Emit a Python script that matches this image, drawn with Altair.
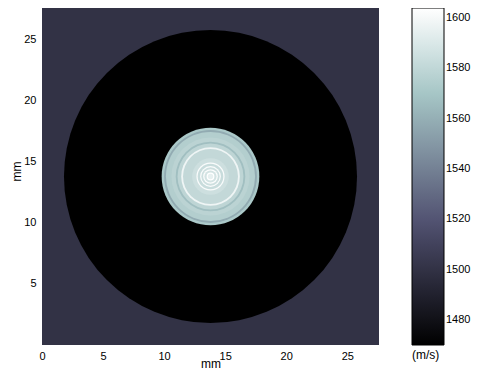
import math
import altair as alt
import pandas as pd

# ---- data (mm, m/s) ----
x_extent = [0.0, 27.6]
y_extent = [0.0, 27.6]
x_ticks = [0, 5, 10, 15, 20, 25]
y_ticks = [5, 10, 15, 20, 25]
center = [13.8, 13.8]
background_speed = 1500

# concentric regions, drawn from outside to inside
ring_radius = [12.0, 4.0, 3.8, 3.65, 3.2, 2.85, 2.7, 2.4, 2.25, 1.5, 1.15, 1.05,
               0.85, 0.75, 0.6, 0.5, 0.32, 0.22]
ring_speed = [1470, 1572, 1558, 1575, 1578, 1567, 1579, 1598, 1581, 1585, 1602, 1583,
              1602, 1585, 1603, 1587, 1604, 1595]

# colour bar
cbar_domain = [1470, 1518.9, 1570.0, 1604]
cbar_colors = ["#000000", "#515171", "#a6c6c6", "#ffffff"]
cbar_ticks = [1480, 1500, 1520, 1540, 1560, 1580, 1600]

PLOT = 337
FONT = "Liberation Sans"
FS = 11

bg_df = pd.DataFrame({"x0": [x_extent[0]], "x1": [x_extent[1]],
                      "y0": [y_extent[0]], "y1": [y_extent[1]],
                      "speed": [background_speed]})
ring_df = pd.DataFrame({"cx": [center[0]] * len(ring_radius),
                        "cy": [center[1]] * len(ring_radius),
                        "r": ring_radius, "speed": ring_speed})

xscale = alt.Scale(domain=x_extent, nice=False, zero=False)
yscale = alt.Scale(domain=y_extent, nice=False, zero=False)
cscale = alt.Scale(domain=cbar_domain, range=cbar_colors, clamp=True, interpolate="rgb")

xaxis = alt.Axis(values=x_ticks, title="mm", ticks=False, tickSize=0, domain=False, grid=False,
                 labelPadding=5, labelFlush=False, labelFontSize=FS, titleFontSize=12,
                 titleFontWeight="normal", titleY=22, titleBaseline="alphabetic",
                 labelColor="black", titleColor="black")
yaxis = alt.Axis(values=y_ticks, title="mm", ticks=False, tickSize=0, domain=False, grid=False,
                 labelPadding=6, labelFlush=False, labelFontSize=FS, titleFontSize=12,
                 titleFontWeight="normal", titleX=-22, titleY=163, titleAlign="center",
                 titleBaseline="alphabetic", titleAngle=270,
                 labelColor="black", titleColor="black")

legend = alt.Legend(type="gradient", orient="none", legendX=370, legendY=0,
                    direction="vertical", gradientLength=PLOT, gradientThickness=32,
                    gradientStrokeColor="black", gradientStrokeWidth=1,
                    values=cbar_ticks, format="d", labelOverlap=False, labelFontSize=FS,
                    labelOffset=2, labelColor="black",
                    title="(m/s)", titleOrient="bottom", titleAnchor="start",
                    titleFontWeight="normal", titleFontSize=12, titlePadding=4,
                    titleColor="black")

bg = alt.Chart(bg_df).mark_rect().encode(
    x=alt.X("x0:Q", scale=xscale, axis=xaxis),
    x2="x1:Q",
    y=alt.Y("y0:Q", scale=yscale, axis=yaxis),
    y2="y1:Q",
    color=alt.Color("speed:Q", scale=cscale, legend=legend),
)

rings = alt.Chart(ring_df).mark_arc(theta=0, theta2=2 * math.pi, clip=True).encode(
    x=alt.X("cx:Q", scale=xscale, axis=xaxis),
    y=alt.Y("cy:Q", scale=yscale, axis=yaxis),
    radius=alt.Radius("r:Q", stack=None,
                      scale=alt.Scale(type="linear", domain=[0, x_extent[1]],
                                      range=[0, PLOT], zero=True)),
    color=alt.Color("speed:Q", scale=cscale, legend=legend),
)

chart = alt.layer(bg, rings).properties(
    width=PLOT, height=PLOT,
    autosize=alt.AutoSizeParams(type="none"),
    padding={"left": 34, "top": 0, "right": 94, "bottom": 25},
).configure(font=FONT).configure_view(stroke=None)

chart.save("out.html", embed_options={"renderer": "svg", "actions": False})
